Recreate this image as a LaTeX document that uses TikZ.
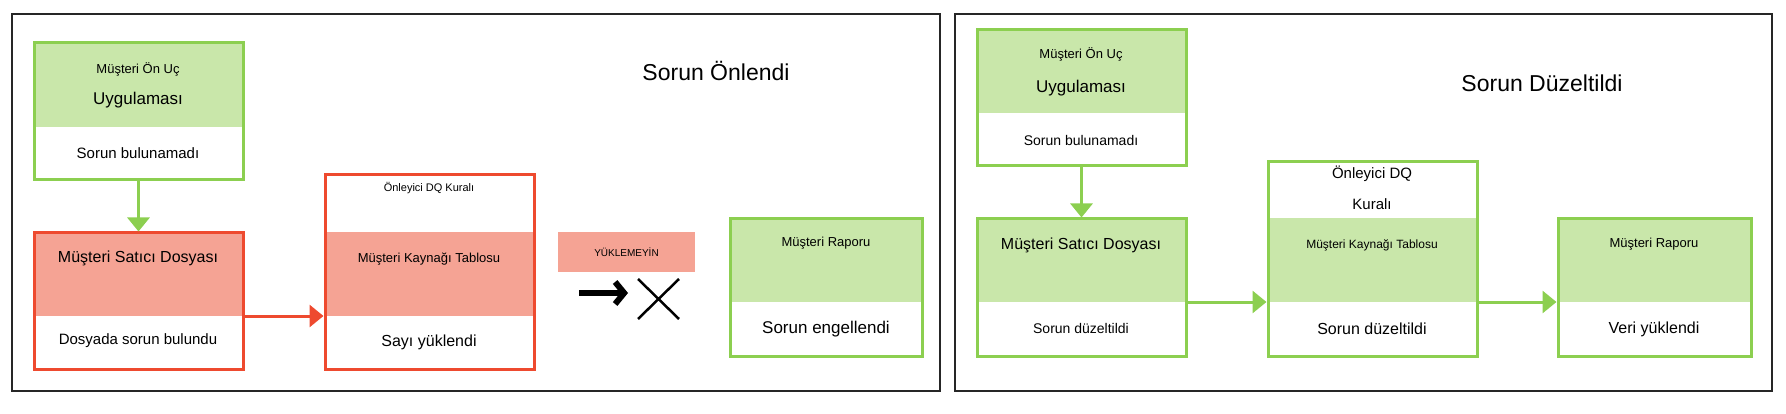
\documentclass[tikz,border=0pt]{standalone}
\usepackage{fontspec}
\setmainfont{Liberation Sans}
\usetikzlibrary{arrows.meta}
\definecolor{gline}{HTML}{8CCF50}
\definecolor{gfill}{HTML}{C9E7AA}
\definecolor{rline}{HTML}{EE4A2F}
\definecolor{rfill}{HTML}{F5A394}
\tikzset{
  gbox/.style={draw=gline, line width=3pt, minimum width=#1},
  rbox/.style={draw=rline, line width=3pt, minimum width=#1},
  frame/.style={draw=black!85, line width=2.5pt},
  garrow/.style={draw=gline, line width=3pt, -{Triangle[width=22pt,length=14pt]}},
  rarrow/.style={draw=rline, line width=3pt, -{Triangle[width=22pt,length=14pt]}},
}
\begin{document}
\begin{tikzpicture}[x=1pt,y=-1pt]
\useasboundingbox (0,0) rectangle (1786,414);
% left panel
\draw[frame] (12,14) rectangle (940,391);
\node at (716,71) {\fontsize{23}{27}\selectfont Sorun Önlendi};
\fill[gfill] (34,43) rectangle (243,127);
\node[gbox=209pt, minimum height=137pt] (front) at (138.5,111.5) {};
\node at (138,69) {\fontsize{13}{15}\selectfont Müşteri Ön Uç};
\node at (138,100) {\fontsize{17}{20}\selectfont Uygulaması};
\node at (138,153) {\fontsize{15}{18}\selectfont Sorun bulunamadı};
\fill[rfill] (34,233) rectangle (243,316);
\node[rbox=209pt, minimum height=136pt] (vendor) at (138.5,301) {};
\node at (138,258) {\fontsize{16}{19}\selectfont Müşteri Satıcı Dosyası};
\node at (138,341) {\fontsize{15}{18}\selectfont Dosyada sorun bulundu};
\fill[rfill] (325,232) rectangle (534,316);
\node[rbox=209pt, minimum height=194pt] (rule) at (429.5,272) {};
\node at (429,188) {\fontsize{11}{13}\selectfont Önleyici DQ Kuralı};
\node at (429,259) {\fontsize{13}{15}\selectfont Müşteri Kaynağı Tablosu};
\node at (429,342) {\fontsize{16}{19}\selectfont Sayı yüklendi};
\node[fill=rfill, minimum width=137pt, minimum height=40pt, inner sep=0pt] (stop) at (626.5,252)
  {\fontsize{10}{12}\selectfont YÜKLEMEYİN};
\coordinate (stopa) at (579,293);
\coordinate (stopb) at (628,293);
\draw[line width=6pt, -{Straight Barb[length=9pt,width=22pt]}] (stopa) -- (stopb);
\draw[line width=2.5pt] (638,279) -- (679,319) (679,279) -- (638,319);
\fill[gfill] (730,219) rectangle (922,302);
\node[gbox=192pt, minimum height=137pt] (report) at (826,287.5) {};
\node at (826,243) {\fontsize{13}{15}\selectfont Müşteri Raporu};
\node at (826,329) {\fontsize{17}{20}\selectfont Sorun engellendi};
\draw[garrow] (front.south) -- (vendor.north);
\draw[rarrow] (vendor.east |- 0,316) -- (rule.west |- 0,316);
% right panel
\draw[frame] (955,14) rectangle (1772,391);
\node at (1542,83) {\fontsize{23}{27}\selectfont Sorun Düzeltildi};
\fill[gfill] (977,30) rectangle (1186,113);
\node[gbox=209pt, minimum height=136pt] (front2) at (1081.5,98) {};
\node at (1081,54) {\fontsize{13}{15}\selectfont Müşteri Ön Uç};
\node at (1081,88) {\fontsize{17}{20}\selectfont Uygulaması};
\node at (1081,140) {\fontsize{14}{17}\selectfont Sorun bulunamadı};
\fill[gfill] (977,219) rectangle (1186,302);
\node[gbox=209pt, minimum height=137pt] (vendor2) at (1081.5,287.5) {};
\node at (1081,245) {\fontsize{16}{19}\selectfont Müşteri Satıcı Dosyası};
\node at (1081,328) {\fontsize{14}{17}\selectfont Sorun düzeltildi};
\fill[gfill] (1268,218) rectangle (1477,302);
\node[gbox=209pt, minimum height=194pt] (rule2) at (1372.5,259) {};
\node at (1372,174) {\fontsize{15}{18}\selectfont Önleyici DQ};
\node at (1372,204) {\fontsize{15}{18}\selectfont Kuralı};
\node at (1372,245) {\fontsize{12}{14}\selectfont Müşteri Kaynağı Tablosu};
\node at (1372,329) {\fontsize{16}{19}\selectfont Sorun düzeltildi};
\fill[gfill] (1558,219) rectangle (1751,302);
\node[gbox=193pt, minimum height=137pt] (report2) at (1654.5,287.5) {};
\node at (1654,244) {\fontsize{13}{15}\selectfont Müşteri Raporu};
\node at (1654,329) {\fontsize{16}{19}\selectfont Veri yüklendi};
\draw[garrow] (front2.south) -- (vendor2.north);
\draw[garrow] (vendor2.east |- 0,302) -- (rule2.west |- 0,302);
\draw[garrow] (rule2.east |- 0,302) -- (report2.west |- 0,302);
\end{tikzpicture}
\end{document}
